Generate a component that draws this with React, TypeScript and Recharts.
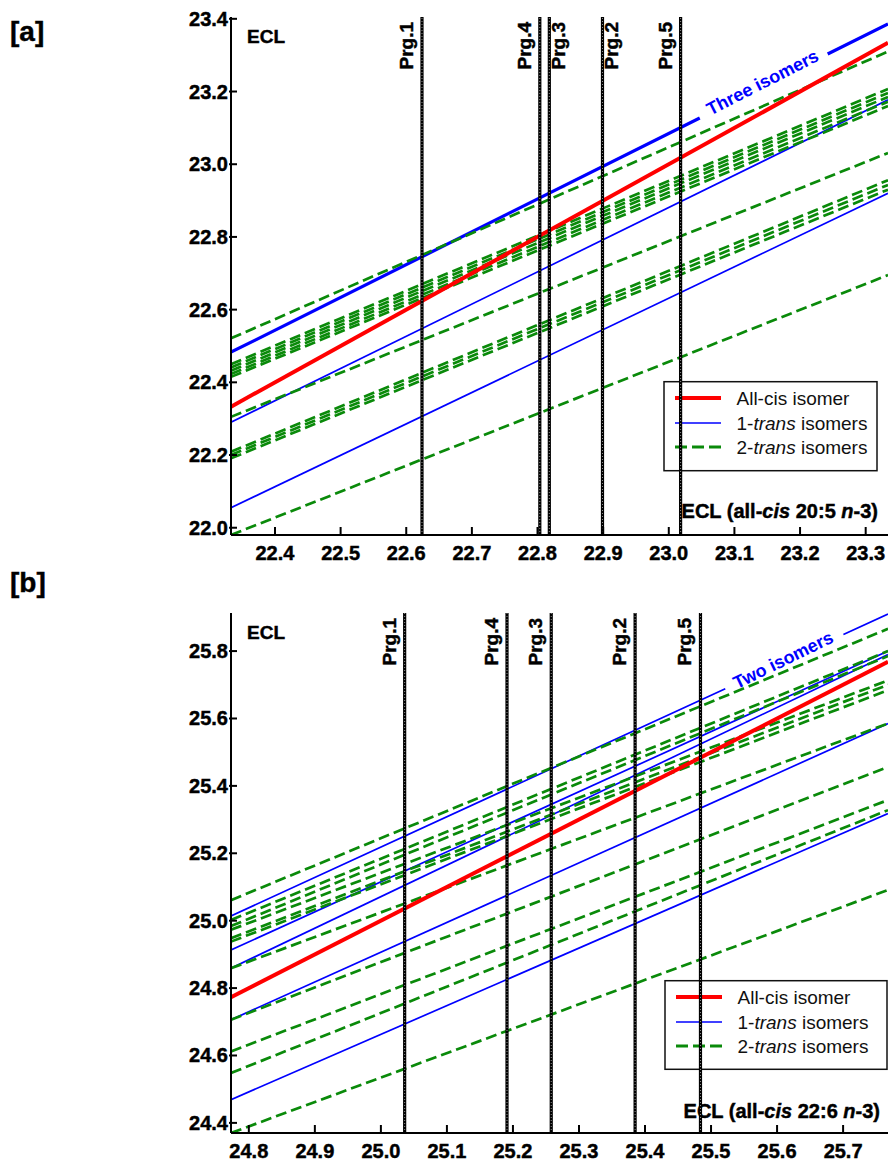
import React from 'react';
import { LineChart, Line, XAxis, YAxis, ReferenceLine, Customized } from 'recharts';

const FONT = '"Liberation Sans", Arial, Helvetica, sans-serif';
const RED = '#ff0000';
const BLUE = '#0000ff';
const GREEN = '#0a8a0a';

// ---------------- Panel [a] data ----------------
const A_X_ENDS = [22.333, 23.334];
const A_X_TICKS = [22.4, 22.5, 22.6, 22.7, 22.8, 22.9, 23.0, 23.1, 23.2, 23.3];
const A_Y_TICKS = [22.0, 22.2, 22.4, 22.6, 22.8, 23.0, 23.2, 23.4];
const A_Y_DOMAIN = [21.98, 23.405];
const A_ALL_CIS = [22.333, 23.334];
const A_TRANS1_GROUP = [22.483, 23.386];
const A_TRANS1 = [
  [22.29, 23.177],
  [22.055, 22.92],
];
const A_TRANS2 = [
  [22.521, 23.31],
  [22.45, 23.207],
  [22.441, 23.196],
  [22.432, 23.185],
  [22.423, 23.172],
  [22.415, 23.16],
  [22.305, 23.031],
  [22.209, 22.956],
  [22.2, 22.943],
  [22.191, 22.93],
  [21.98, 22.695],
];
const A_PRG_X = [22.624, 22.8035, 22.818, 22.899, 23.018];
const A_PRG_LABELS = ['Prg.1', 'Prg.4', 'Prg.3', 'Prg.2', 'Prg.5'];
const A_GROUP_LABEL = 'Three isomers';
const A_COMPOUND = ['20:5', 'n', '-3'];

// ---------------- Panel [b] data ----------------
const B_X_ENDS = [24.773, 25.768];
const B_X_TICKS = [24.8, 24.9, 25.0, 25.1, 25.2, 25.3, 25.4, 25.5, 25.6, 25.7];
const B_Y_TICKS = [24.4, 24.6, 24.8, 25.0, 25.2, 25.4, 25.6, 25.8];
const B_Y_DOMAIN = [24.37, 25.913];
const B_ALL_CIS = [24.773, 25.768];
const B_TRANS1_GROUP = [25.014, 25.91];
const B_TRANS1 = [
  [24.913, 25.8],
  [24.859, 25.79],
  [24.706, 25.585],
  [24.469, 25.318],
];
const B_TRANS2 = [
  [25.061, 25.866],
  [25.002, 25.8],
  [24.984, 25.785],
  [24.973, 25.713],
  [24.948, 25.7],
  [24.938, 25.684],
  [24.859, 25.585],
  [24.706, 25.456],
  [24.612, 25.358],
  [24.548, 25.328],
  [24.37, 25.091],
];
const B_PRG_X = [25.036, 25.191, 25.258, 25.385, 25.484];
const B_PRG_LABELS = ['Prg.1', 'Prg.4', 'Prg.3', 'Prg.2', 'Prg.5'];
const B_GROUP_LABEL = 'Two isomers';
const B_COMPOUND = ['22:6', 'n', '-3'];

const LEGEND_LABELS = ['All-cis isomer', 'trans isomers'];

const toPts = (xs: number[], ys: number[]) => [
  { x: xs[0], y: ys[0] },
  { x: xs[1], y: ys[1] },
];

const HEAVY = { fontFamily: FONT, fontWeight: 'bold', fill: '#000', stroke: '#000', strokeWidth: 0.45 } as any;

const XTick = (p: any) => {
  const { x, y, payload } = p;
  return (
    <g>
      <line x1={x} x2={x} y1={y} y2={y - 8} stroke="#000" strokeWidth={2} />
      <text x={x} y={y + 25} textAnchor="middle" style={{ ...HEAVY, fontSize: 20 }}>
        {Number(payload.value).toFixed(1)}
      </text>
    </g>
  );
};

const YTick = (p: any) => {
  const { x, y, payload } = p;
  return (
    <g>
      <line x1={x - 2} x2={x + 6} y1={y} y2={y} stroke="#000" strokeWidth={2} />
      <text x={x - 3} y={y + 7} textAnchor="end" style={{ ...HEAVY, fontSize: 20 }}>
        {Number(payload.value).toFixed(1)}
      </text>
    </g>
  );
};

const PrgLabel = (p: any) => {
  const vb = p.viewBox || {};
  const lx = vb.x;
  const top = vb.y;
  const bx = p.side === 'right' ? lx + 16 : lx - 9;
  return (
    <text
      transform={`translate(${bx},${top + 5}) rotate(-90)`}
      textAnchor="end"
      style={{ ...HEAVY, fontSize: 19 }}
    >
      {p.text}
    </text>
  );
};

const LegendBox = ({ x, y, w, h }: any) => {
  const rows = [y + 16.3, y + 41.3, y + 65.3];
  const tx = x + 72.5;
  const tStyle = { fontFamily: FONT, fontSize: 19, fill: '#111' } as any;
  return (
    <g>
      <rect x={x} y={y} width={w} height={h} fill="#fff" stroke="#111" strokeWidth={1.5} />
      <line x1={x + 11} x2={x + 57} y1={rows[0]} y2={rows[0]} stroke={RED} strokeWidth={4} />
      <line x1={x + 11} x2={x + 57} y1={rows[1]} y2={rows[1]} stroke={BLUE} strokeWidth={1.6} />
      <line x1={x + 11} x2={x + 57} y1={rows[2]} y2={rows[2]} stroke={GREEN} strokeWidth={2.8} strokeDasharray="12 5" />
      <text x={tx} y={rows[0] + 6.5} style={tStyle}>{LEGEND_LABELS[0]}</text>
      <text x={tx} y={rows[1] + 6.5} style={tStyle}>
        1-<tspan fontStyle="italic">trans</tspan> isomers
      </text>
      <text x={tx} y={rows[2] + 6.5} style={tStyle}>
        2-<tspan fontStyle="italic">trans</tspan> isomers
      </text>
    </g>
  );
};

const Overlay = ({ cfg }: any) => {
  const o = cfg.overlay;
  return (
    <g>
      <text x={2} y={o.tagY} style={{ ...HEAVY, fontSize: 28 }}>{cfg.tag}</text>
      <text x={239} y={o.eclY} style={{ ...HEAVY, fontSize: 19 }}>ECL</text>
      <text x={o.titleX} y={o.titleY} textAnchor="end" style={{ ...HEAVY, fontSize: 20 }}>
        ECL (all-<tspan fontStyle="italic">cis</tspan> {cfg.compound[0]}{' '}
        <tspan fontStyle="italic">{cfg.compound[1]}</tspan>{cfg.compound[2]})
      </text>
      <text
        transform={`translate(${o.groupLabel[0]},${o.groupLabel[1]}) rotate(${o.groupLabel[2]})`}
        textAnchor="middle"
        y={6}
        style={{ fontFamily: FONT, fontWeight: 'bold', fontSize: 18, fill: BLUE }}
      >
        {cfg.groupLabel}
      </text>
      <LegendBox x={o.legend[0]} y={o.legend[1]} w={o.legend[2]} h={o.legend[3]} />
    </g>
  );
};

const Panel = ({ cfg }: any) => {
  const prgSides = cfg.prgSides;
  return (
    <LineChart width={880} height={cfg.height} margin={{ top: cfg.marginTop, right: 0, bottom: 0, left: 0 }}>
      <XAxis
        type="number"
        dataKey="x"
        domain={cfg.xEnds}
        ticks={cfg.xTicks}
        allowDataOverflow
        interval={0}
        height={cfg.xAxisHeight}
        tickSize={0}
        tickMargin={0}
        tickLine={false}
        axisLine={{ stroke: '#000', strokeWidth: 2 }}
        tick={(p: any) => <XTick {...p} />}
      />
      <YAxis
        type="number"
        domain={cfg.yDomain}
        ticks={cfg.yTicks}
        allowDataOverflow
        interval={0}
        width={223}
        tickSize={0}
        tickMargin={0}
        tickLine={false}
        axisLine={{ stroke: '#000', strokeWidth: 2 }}
        tick={(p: any) => <YTick {...p} />}
      />
      <Line
        data={toPts(cfg.xEnds, cfg.group)}
        dataKey="y"
        type="linear"
        stroke={BLUE}
        strokeWidth={cfg.groupWidth}
        strokeDasharray={cfg.groupDash}
        dot={false}
        activeDot={false}
        isAnimationActive={false}
      />
      {cfg.trans1.map((ys: number[], i: number) => (
        <Line
          key={'t1' + i}
          data={toPts(cfg.xEnds, ys)}
          dataKey="y"
          type="linear"
          stroke={BLUE}
          strokeWidth={1.7}
          dot={false}
          activeDot={false}
          isAnimationActive={false}
        />
      ))}
      {cfg.trans2.map((ys: number[], i: number) => (
        <Line
          key={'t2' + i}
          data={toPts(cfg.xEnds, ys)}
          dataKey="y"
          type="linear"
          stroke={GREEN}
          strokeWidth={2.7}
          strokeDasharray="11 5"
          dot={false}
          activeDot={false}
          isAnimationActive={false}
        />
      ))}
      <Line
        data={toPts(cfg.xEnds, cfg.allCis)}
        dataKey="y"
        type="linear"
        stroke={RED}
        strokeWidth={4}
        dot={false}
        activeDot={false}
        isAnimationActive={false}
      />
      {cfg.prgX.map((v: number, i: number) => (
        <ReferenceLine
          key={'prg' + i}
          x={v}
          stroke="#000"
          strokeWidth={3.2}
          label={<PrgLabel text={cfg.prgLabels[i]} side={prgSides[i]} />}
        />
      ))}
      {cfg.prgX.map((v: number, i: number) => (
        <ReferenceLine key={'prgw' + i} x={v} stroke="#fff" strokeWidth={1} strokeOpacity={0.55} strokeDasharray="1 2" />
      ))}
      <Customized component={() => <Overlay cfg={cfg} />} />
    </LineChart>
  );
};

const PANEL_A = {
  tag: '[a]',
  height: 560,
  marginTop: 9,
  xAxisHeight: 33,
  xEnds: A_X_ENDS,
  xTicks: A_X_TICKS,
  yTicks: A_Y_TICKS,
  yDomain: A_Y_DOMAIN,
  allCis: A_ALL_CIS,
  group: A_TRANS1_GROUP,
  groupWidth: 3.2,
  groupDash: '524 143 2000',
  trans1: A_TRANS1,
  trans2: A_TRANS2,
  prgX: A_PRG_X,
  prgLabels: A_PRG_LABELS,
  prgSides: ['left', 'left', 'right', 'right', 'left'],
  groupLabel: A_GROUP_LABEL,
  compound: A_COMPOUND,
  overlay: {
    tagY: 33,
    eclY: 35,
    titleX: 870,
    titleY: 510,
    groupLabel: [754.5, 74.5, -27],
    legend: [656, 373.7, 213, 89],
  },
};

const PANEL_B = {
  tag: '[b]',
  height: 592,
  marginTop: 45,
  xAxisHeight: 27,
  xEnds: B_X_ENDS,
  xTicks: B_X_TICKS,
  yTicks: B_Y_TICKS,
  yDomain: B_Y_DOMAIN,
  allCis: B_ALL_CIS,
  group: B_TRANS1_GROUP,
  groupWidth: 1.7,
  groupDash: '544 130 2000',
  trans1: B_TRANS1,
  trans2: B_TRANS2,
  prgX: B_PRG_X,
  prgLabels: B_PRG_LABELS,
  prgSides: ['left', 'left', 'left', 'left', 'left'],
  groupLabel: B_GROUP_LABEL,
  compound: B_COMPOUND,
  overlay: {
    tagY: 24,
    eclY: 71,
    titleX: 872,
    titleY: 550,
    groupLabel: [775.3, 92, -26],
    legend: [657, 412.7, 222, 88.6],
  },
};

export default function App() {
  return (
    <div style={{ position: 'absolute', left: 8, top: 8, width: 880, height: 1152, overflow: 'hidden', background: '#fff' }}>
      <Panel cfg={PANEL_A} />
      <Panel cfg={PANEL_B} />
    </div>
  );
}
